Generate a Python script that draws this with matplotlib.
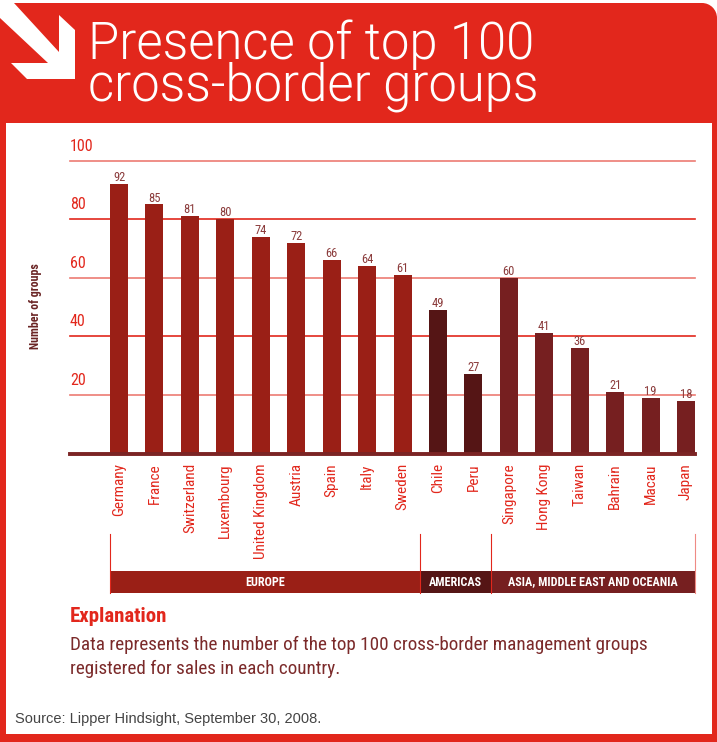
import numpy as np
import matplotlib
matplotlib.use('Agg')
import matplotlib.pyplot as plt
from matplotlib.patches import Rectangle, Polygon, Circle
from matplotlib.transforms import blended_transform_factory

# data
countries = ['Germany', 'France', 'Switzerland', 'Luxembourg', 'United Kingdom',
             'Austria', 'Spain', 'Italy', 'Sweden', 'Chile', 'Peru', 'Singapore',
             'Hong Kong', 'Taiwan', 'Bahrain', 'Macau', 'Japan']
groups = [92, 85, 81, 80, 74, 72, 66, 64, 61, 49, 27, 60, 41, 36, 21, 19, 18]
regions = ['EUROPE', 'AMERICAS', 'ASIA, MIDDLE EAST AND OCEANIA']
region_sizes = [9, 2, 6]
yticks = [20, 40, 60, 80, 100]

# colours
red = '#e2271c'
region_colors = ['#9a1f16', '#551515', '#761f20']
grid_colors = {20: '#ec7b73', 40: '#e2271c', 60: '#ec7b73', 80: '#e2271c', 100: '#ec7b73'}

narrow = ['Roboto Condensed', 'Liberation Sans', 'DejaVu Sans']
plt.rcParams['font.family'] = narrow

fig = plt.figure(figsize=(7.17, 7.42), dpi=100)
fig.patch.set_facecolor('white')

# background layer in pixel coordinates
bg = fig.add_axes([0, 0, 1, 1])
bg.set_xlim(0, 717)
bg.set_ylim(742, 0)
bg.axis('off')

bg.add_patch(Rectangle((0, 3), 717, 739, color=red, lw=0))
# rounded top right corner
bg.add_patch(Rectangle((700, 0), 17, 18, color='white', lw=0))
bg.add_patch(Circle((702, 18), 15, color=red, lw=0))
bg.add_patch(Rectangle((687, 3), 15, 20, color=red, lw=0))
bg.add_patch(Rectangle((700, 18), 17, 10, color=red, lw=0))
# white panel
bg.add_patch(Rectangle((6, 123), 706, 611, color='white', lw=0))
# arrow
arrow = [(14, 0), (14, 3), (59, 52), (59, 15), (75, 30), (75, 79), (27, 79),
         (11, 63), (48, 63), (0, 18), (0, 0)]
bg.add_patch(Polygon(arrow, closed=True, color='white', lw=0))

title_font = ['Roboto', 'Liberation Sans', 'DejaVu Sans']
bg.text(88, 59, 'Presence of top 100', fontsize=36.5, color='white', fontweight=300,
        family=title_font, va='baseline', ha='left')
bg.text(88, 101, 'cross-border groups', fontsize=36.5, color='white', fontweight=300,
        family=title_font, va='baseline', ha='left')

bg.text(35, 306, 'Number of groups', rotation=90, ha='center', va='center',
        fontsize=8.6, fontweight='bold', color='#6a2424')

bg.text(70, 622, 'Explanation', fontsize=15, fontweight='bold', color=red,
        va='baseline')
bg.text(70, 650, 'Data represents the number of the top 100 cross-border management groups',
        fontsize=13.8, color='#7b2a2a', va='baseline')
bg.text(70, 674, 'registered for sales in each country.',
        fontsize=13.8, color='#7b2a2a', va='baseline')
bg.text(15, 723, 'Source: Lipper Hindsight, September 30, 2008.',
        family=['Liberation Sans', 'DejaVu Sans'],
        fontsize=10.5, color='#444444', va='baseline')

# chart
ax = fig.add_axes([70 / 717, (742 - 453.5) / 742, (695 - 70) / 717, (453.5 - 160.5) / 742])
ax.patch.set_alpha(0)
w = 0.508
x = np.arange(len(countries))
ax.set_xlim(-1.383, len(countries) - 1 + w / 2)
ax.set_ylim(0, 100)

bar_colors = []
for c, n in zip(region_colors, region_sizes):
    bar_colors += [c] * n

for t in yticks:
    ax.axhline(t, color=grid_colors[t], lw=1.2, zorder=1, clip_on=False)
    ax.text(0, t + 3.4, str(t), transform=blended_transform_factory(ax.transAxes, ax.transData),
            ha='left', va='baseline', color=red, fontsize=11.5)

ax.bar(x, groups, width=w, color=bar_colors, zorder=2)
for i, v in enumerate(groups):
    ax.text(i, v + 1.0, str(v), ha='center', va='baseline', fontsize=9, color='#8b3b3b')

ax.axhline(0, color='#7b2424', lw=2.8, zorder=3, clip_on=False)

for s in ax.spines.values():
    s.set_visible(False)
ax.set_yticks([])
ax.set_xticks(x)
ax.set_xticklabels(countries, rotation=90, color=red, fontsize=11)
ax.tick_params(axis='x', length=0, pad=7)

# region bands
trans = blended_transform_factory(ax.transData, bg.transData)
edges = [-w / 2]
pos = 0
for n in region_sizes:
    pos += n
    edges.append(pos - 0.5)
edges[-1] = len(countries) - 1 + w / 2

for k, name in enumerate(regions):
    x0, x1 = edges[k], edges[k + 1]
    ax.add_patch(Rectangle((x0, 571), x1 - x0, 22, transform=trans, color=region_colors[k],
                           lw=0, clip_on=False))
    ax.text((x0 + x1) / 2, 582, name, transform=trans, ha='center', va='center',
            color='white', fontsize=8.7, fontweight='bold')
line_colors = [red, red, red, '#ef8a84']
for e, lc in zip(edges, line_colors):
    ax.plot([e, e], [534, 593], transform=trans, color=lc, lw=0.8, clip_on=False)

fig.savefig('out.png', dpi=100)
